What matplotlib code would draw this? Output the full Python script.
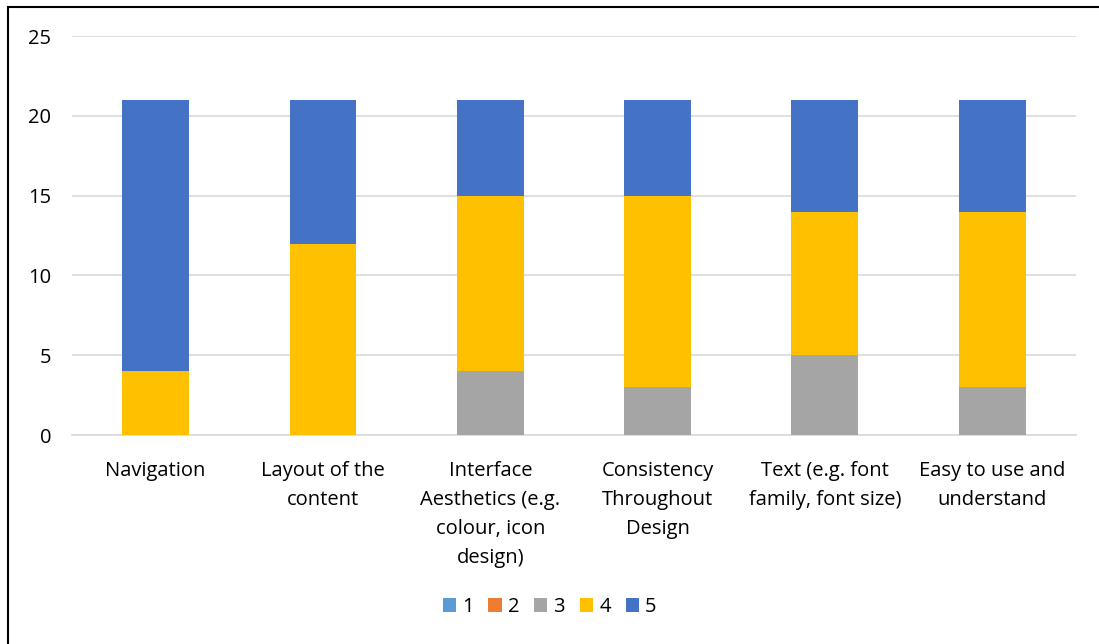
import matplotlib
matplotlib.use("Agg")
import matplotlib.pyplot as plt
from matplotlib.patches import Rectangle
import numpy

categories = [
    "Navigation",
    "Layout of the\ncontent",
    "Interface\nAesthetics (e.g.\ncolour, icon\ndesign)",
    "Consistency\nThroughout\nDesign",
    "Text (e.g. font\nfamily, font size)",
    "Easy to use and\nunderstand",
]
series_names = ["1", "2", "3", "4", "5"]
score_1 = [0, 0, 0, 0, 0, 0]
score_2 = [0, 0, 0, 0, 0, 0]
score_3 = [0, 0, 4, 3, 5, 3]
score_4 = [4, 12, 11, 12, 9, 11]
score_5 = [17, 9, 6, 6, 7, 7]
colors = ["#5B9BD5", "#ED7D31", "#A5A5A5", "#FFC000", "#4472C4"]

plt.rcParams["font.family"] = ["Open Sans", "DejaVu Sans"]

fig = plt.figure(figsize=(10.99, 6.44), dpi=100)
ax = fig.add_axes([0.0655, 0.3245, 0.9135, 0.6195])

x = numpy.arange(len(categories))
bottom = numpy.zeros(len(categories))
for name, vals, col in zip(series_names, [score_1, score_2, score_3, score_4, score_5], colors):
    ax.bar(x, vals, width=0.4, bottom=bottom, color=col, label=name, zorder=3)
    bottom += numpy.array(vals)

ax.set_ylim(0, 25)
ax.set_xlim(-0.5, len(categories) - 0.5)
ax.set_yticks(range(0, 26, 5))
ax.yaxis.grid(True, color="#D9D9D9", linewidth=1.2, zorder=0)
for s in ["top", "right", "left"]:
    ax.spines[s].set_visible(False)
ax.spines["bottom"].set_color("#D9D9D9")
ax.spines["bottom"].set_linewidth(1.2)
ax.tick_params(axis="both", length=0, labelsize=14.5, colors="#000000")
ax.tick_params(axis="y", pad=15)
ax.tick_params(axis="x", pad=19)
ax.set_xticks(x)
ax.set_xticklabels(categories, linespacing=1.58, va="top")

handles, labels = ax.get_legend_handles_labels()
fig.legend(handles, labels, loc="center", bbox_to_anchor=(0.5, 0.057), ncol=5,
           frameon=False, fontsize=14.5, handlelength=0.65, handleheight=0.65,
           handletextpad=0.3, columnspacing=0.75)

fig.patches.append(Rectangle((8 / 1099, -0.1), 1.2, 1.1 - 7 / 644, transform=fig.transFigure,
                             fill=False, edgecolor="black", linewidth=1.5))

fig.savefig("out.png", dpi=100)
